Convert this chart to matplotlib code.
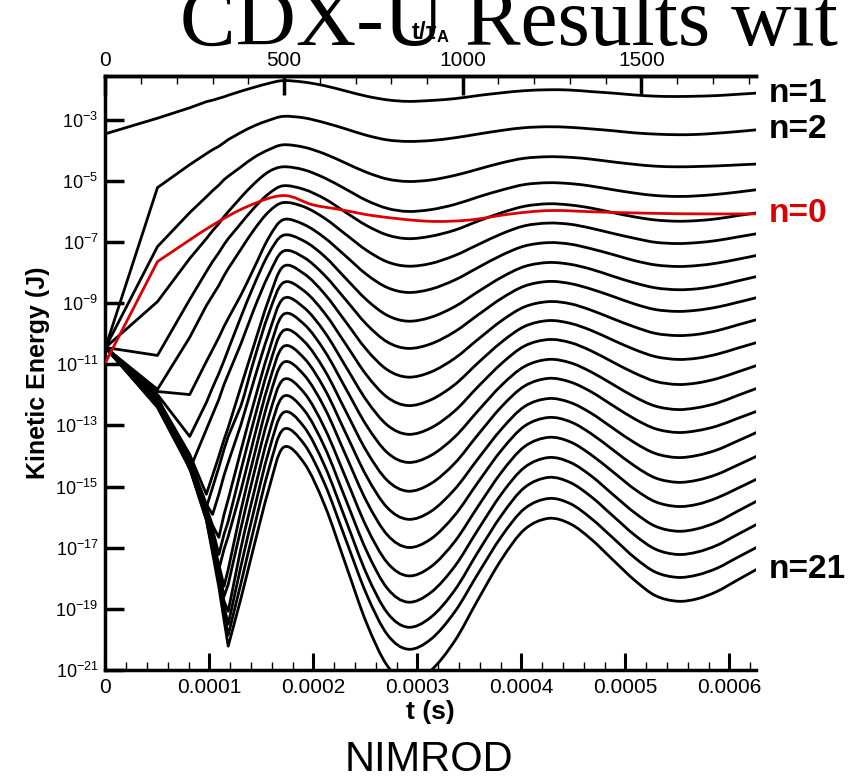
import matplotlib
matplotlib.use('Agg')
import matplotlib.pyplot as plt
import matplotlib.ticker as ticker
from matplotlib.path import Path
from matplotlib.patches import PathPatch
import numpy as np

plt.rcParams['font.family'] = ['Liberation Sans', 'DejaVu Sans']
plt.rcParams['mathtext.fontset'] = 'custom'
plt.rcParams['mathtext.rm'] = 'Liberation Sans'
plt.rcParams['mathtext.bf'] = 'Liberation Sans:bold'
plt.rcParams['mathtext.it'] = 'Liberation Sans:italic'

# sample times in microseconds, shared by the n=1..21 curves
t_us = [0, 50, 81, 97, 103, 109, 114, 118, 130, 143, 157, 171,
        191, 211, 231, 251, 271, 291, 313, 336, 358, 381, 403, 426,
        447, 467, 488, 509, 529, 550, 569, 588, 607, 626]

# log10 of kinetic energy (J) for each toroidal mode number
log_ke_n1 = [-3.46, -2.95, -2.61, -2.41, -2.36, -2.30, -2.25, -2.20, -2.07, -1.94, -1.81, -1.72,
             -1.77, -1.89, -2.06, -2.23, -2.35, -2.40, -2.37, -2.31, -2.21, -2.12, -2.05, -2.02,
             -2.03, -2.08, -2.13, -2.19, -2.23, -2.24, -2.23, -2.21, -2.17, -2.13]
log_ke_n2 = [-10.45, -5.22, -4.47, -4.11, -3.98, -3.87, -3.75, -3.65, -3.42, -3.20, -3.02, -2.89,
             -2.94, -3.10, -3.30, -3.51, -3.66, -3.71, -3.68, -3.59, -3.47, -3.35, -3.26, -3.23,
             -3.25, -3.30, -3.36, -3.43, -3.47, -3.49, -3.48, -3.44, -3.39, -3.33]
log_ke_n3 = [-10.45, -7.15, -6.04, -5.52, -5.32, -5.14, -4.96, -4.85, -4.55, -4.23, -3.98, -3.82,
             -3.90, -4.12, -4.42, -4.72, -4.94, -5.02, -4.97, -4.82, -4.62, -4.41, -4.26, -4.21,
             -4.23, -4.29, -4.38, -4.46, -4.52, -4.54, -4.53, -4.51, -4.48, -4.45]
log_ke_n4 = [-10.45, -8.95, -7.54, -6.89, -6.63, -6.40, -6.17, -6.01, -5.55, -5.09, -4.70, -4.54,
             -4.64, -4.91, -5.27, -5.64, -5.90, -6.00, -5.94, -5.77, -5.53, -5.30, -5.12, -5.06,
             -5.09, -5.17, -5.29, -5.40, -5.48, -5.51, -5.49, -5.44, -5.37, -5.29]
log_ke_n5 = [-10.45, -10.71, -8.88, -7.97, -7.64, -7.35, -7.08, -6.89, -6.40, -5.88, -5.42, -5.16,
             -5.28, -5.59, -6.03, -6.46, -6.77, -6.89, -6.81, -6.61, -6.32, -6.04, -5.83, -5.75,
             -5.79, -5.89, -6.04, -6.18, -6.28, -6.32, -6.30, -6.24, -6.14, -6.05]
log_ke_n6 = [-10.45, -11.82, -10.12, -9.08, -8.75, -8.42, -8.10, -7.87, -7.25, -6.59, -6.01, -5.71,
             -5.85, -6.23, -6.75, -7.27, -7.65, -7.79, -7.70, -7.44, -7.09, -6.73, -6.47, -6.38,
             -6.42, -6.55, -6.72, -6.88, -7.01, -7.05, -7.02, -6.95, -6.84, -6.73]
log_ke_n7 = [-10.45, -11.89, -11.99, -10.91, -10.52, -10.12, -9.76, -9.50, -8.75, -7.84, -6.86, -6.27,
             -6.43, -6.87, -7.46, -8.06, -8.49, -8.65, -8.54, -8.24, -7.84, -7.43, -7.13, -7.02,
             -7.07, -7.22, -7.41, -7.61, -7.75, -7.80, -7.77, -7.69, -7.57, -7.44]
log_ke_n8 = [-10.45, -11.99, -13.36, -12.25, -11.76, -11.30, -10.88, -10.52, -9.47, -8.39, -7.38, -6.78,
             -6.97, -7.48, -8.19, -8.89, -9.40, -9.59, -9.46, -9.11, -8.63, -8.15, -7.80, -7.67,
             -7.73, -7.89, -8.12, -8.34, -8.50, -8.56, -8.53, -8.43, -8.28, -8.13]
log_ke_n9 = [-10.45, -12.05, -14.44, -13.13, -12.64, -12.15, -11.66, -11.33, -10.35, -9.18, -8.07, -7.30,
             -7.51, -8.10, -8.89, -9.69, -10.27, -10.48, -10.33, -9.93, -9.39, -8.84, -8.44, -8.29,
             -8.36, -8.54, -8.78, -9.03, -9.21, -9.27, -9.23, -9.13, -8.98, -8.82]
log_ke_n10 = [-10.45, -12.12, -13.95, -15.25, -14.63, -14.01, -13.46, -13.07, -11.76, -10.35, -8.88, -7.80,
              -8.04, -8.71, -9.61, -10.52, -11.18, -11.42, -11.25, -10.80, -10.19, -9.57, -9.12, -8.95,
              -9.02, -9.23, -9.51, -9.78, -9.99, -10.06, -10.02, -9.90, -9.72, -9.54]
log_ke_n11 = [-10.45, -12.15, -14.05, -15.68, -15.03, -14.37, -13.78, -13.36, -12.38, -10.84, -9.34, -8.33,
              -8.60, -9.34, -10.34, -11.35, -12.08, -12.35, -12.16, -11.66, -10.96, -10.27, -9.76, -9.57,
              -9.66, -9.89, -10.21, -10.52, -10.75, -10.84, -10.80, -10.67, -10.48, -10.29]
log_ke_n12 = [-10.45, -12.18, -14.11, -15.58, -15.91, -15.25, -14.63, -14.21, -13.00, -11.50, -9.99, -8.85,
              -9.15, -9.96, -11.07, -12.18, -12.99, -13.29, -13.08, -12.52, -11.74, -10.97, -10.40, -10.19,
              -10.29, -10.56, -10.93, -11.29, -11.56, -11.66, -11.61, -11.47, -11.26, -11.04]
log_ke_n13 = [-10.45, -12.22, -14.18, -15.68, -16.27, -16.66, -15.91, -15.42, -13.85, -12.22, -10.58, -9.37,
              -9.69, -10.58, -11.79, -13.00, -13.89, -14.21, -13.98, -13.37, -12.53, -11.68, -11.07, -10.84,
              -10.95, -11.25, -11.66, -12.07, -12.37, -12.48, -12.42, -12.27, -12.03, -11.79]
log_ke_n14 = [-10.45, -12.25, -14.21, -15.75, -16.40, -17.22, -16.56, -16.14, -14.50, -12.80, -11.10, -9.90,
              -10.25, -11.21, -12.53, -13.84, -14.80, -15.15, -14.90, -14.23, -13.31, -12.38, -11.71, -11.46,
              -11.58, -11.90, -12.35, -12.79, -13.11, -13.23, -13.17, -13.02, -12.78, -12.54]
log_ke_n15 = [-10.45, -12.28, -14.24, -15.81, -16.63, -17.71, -17.05, -16.63, -15.16, -13.39, -11.63, -10.42,
              -10.80, -11.83, -13.25, -14.66, -15.69, -16.07, -15.81, -15.08, -14.10, -13.11, -12.38, -12.12,
              -12.25, -12.60, -13.09, -13.57, -13.92, -14.05, -13.98, -13.80, -13.52, -13.23]
log_ke_n16 = [-10.45, -12.31, -14.27, -15.88, -16.73, -17.54, -18.26, -17.71, -15.81, -13.98, -12.15, -10.94,
              -11.35, -12.45, -13.97, -15.48, -16.58, -16.99, -16.71, -15.93, -14.87, -13.80, -13.02, -12.74,
              -12.88, -13.27, -13.80, -14.33, -14.72, -14.86, -14.79, -14.60, -14.31, -14.01]
log_ke_n17 = [-10.45, -12.31, -14.31, -15.94, -16.82, -17.71, -18.59, -18.20, -16.40, -14.54, -12.71, -11.50,
              -11.93, -13.11, -14.71, -16.32, -17.49, -17.92, -17.62, -16.79, -15.66, -14.52, -13.69, -13.39,
              -13.54, -13.96, -14.52, -15.09, -15.50, -15.65, -15.58, -15.37, -15.07, -14.76]
log_ke_n18 = [-10.45, -12.35, -14.34, -16.01, -16.92, -17.84, -18.75, -19.08, -17.05, -15.16, -13.29, -12.05,
              -12.50, -13.73, -15.42, -17.10, -18.33, -18.78, -18.46, -17.60, -16.42, -15.23, -14.37, -14.05,
              -14.21, -14.65, -15.26, -15.86, -16.30, -16.46, -16.38, -16.16, -15.82, -15.48]
log_ke_n19 = [-10.45, -12.38, -14.37, -16.04, -17.02, -17.97, -18.92, -19.50, -17.64, -15.75, -13.85, -12.58,
              -13.05, -14.34, -16.09, -17.85, -19.13, -19.60, -19.27, -18.38, -17.15, -15.93, -15.03, -14.70,
              -14.87, -15.33, -15.96, -16.59, -17.05, -17.22, -17.14, -16.92, -16.58, -16.24]
log_ke_n20 = [-10.45, -12.38, -14.37, -16.07, -17.08, -18.13, -19.14, -19.86, -18.20, -16.33, -14.44, -13.13,
              -13.61, -14.93, -16.73, -18.52, -19.84, -20.32, -19.99, -19.09, -17.86, -16.62, -15.72, -15.39,
              -15.56, -16.04, -16.68, -17.33, -17.80, -17.97, -17.89, -17.67, -17.33, -16.99]
log_ke_n21 = [-10.45, -12.41, -14.41, -16.10, -17.18, -18.29, -19.37, -20.22, -18.69, -16.92, -15.09, -13.72,
              -14.23, -15.63, -17.55, -19.46, -20.86, -21.37, -21.01, -20.04, -18.71, -17.37, -16.40, -16.04,
              -16.22, -16.72, -17.40, -18.07, -18.57, -18.75, -18.67, -18.43, -18.07, -17.71]

# n=0 (red) has its own sample times
t0_us = [0, 50, 101, 137, 171, 199, 226, 260, 310, 350, 390, 428, 476, 524, 572, 626]
log_ke_n0 = [-10.94, -7.64, -6.49, -5.83, -5.48, -5.78, -5.94, -6.15, -6.32, -6.28, -6.08,
             -5.97, -6.02, -6.06, -6.08, -6.08]

black_modes = [log_ke_n1, log_ke_n2, log_ke_n3, log_ke_n4, log_ke_n5, log_ke_n6, log_ke_n7,
               log_ke_n8, log_ke_n9, log_ke_n10, log_ke_n11, log_ke_n12, log_ke_n13, log_ke_n14,
               log_ke_n15, log_ke_n16, log_ke_n17, log_ke_n18, log_ke_n19, log_ke_n20, log_ke_n21]

tau_A = 3.435e-7  # Alfven time (s)
red = '#dd0000'


def mode_curve(times, logs, first_smooth, sharp_start=False):
    """Straight segments up to first_smooth, then a Catmull-Rom style bezier
    through the read points (built in t / log10 space, drawn on the log axis)."""
    p = np.column_stack([np.asarray(times, float), np.asarray(logs, float)])
    n = len(p)
    tang = np.zeros_like(p)
    for i in range(n):
        lo = max(i - 1, 0)
        hi = min(i + 1, n - 1)
        if sharp_start and i == first_smooth:
            lo = i
        tang[i] = (p[hi] - p[lo]) / (hi - lo)
    verts = [p[0]]
    codes = [Path.MOVETO]
    for i in range(n - 1):
        if i < first_smooth:
            verts.append(p[i + 1])
            codes.append(Path.LINETO)
        else:
            verts += [p[i] + tang[i] / 3.0, p[i + 1] - tang[i + 1] / 3.0, p[i + 1]]
            codes += [Path.CURVE4] * 3
    v = np.array(verts)
    v[:, 0] *= 1e-6
    v[:, 1] = 10.0 ** v[:, 1]
    return Path(v, codes)


fig = plt.figure(figsize=(8.5, 7.82), dpi=100)
ax = fig.add_axes([0.1241, 0.1432, 0.7653, 0.7596])
ax.set_yscale('log')
ax.set_xlim(0, 6.255e-4)
ax.set_ylim(1e-21, 10 ** -1.57)

for logs in black_modes:
    ax.add_patch(PathPatch(mode_curve(t_us, logs, 8), fill=False, edgecolor='black',
                           lw=2.0, joinstyle='round', capstyle='round'))
ax.add_patch(PathPatch(mode_curve(t0_us, log_ke_n0, 1, sharp_start=True), fill=False,
                       edgecolor=red, lw=2.0, joinstyle='round', capstyle='round', zorder=3))

# axes look
for side in ['left', 'bottom', 'top']:
    ax.spines[side].set_linewidth(2.5)
ax.spines['right'].set_visible(False)

ax.xaxis.set_major_locator(ticker.MultipleLocator(1e-4))
ax.xaxis.set_minor_locator(ticker.MultipleLocator(2e-5))
ax.xaxis.set_major_formatter(ticker.FuncFormatter(lambda v, p: '0' if abs(v) < 1e-9 else '%.4f' % v))
ax.yaxis.set_major_locator(ticker.FixedLocator([10.0 ** e for e in range(-21, -2, 2)]))
ax.yaxis.set_minor_locator(ticker.NullLocator())
ax.yaxis.set_major_formatter(ticker.FuncFormatter(lambda v, p: r'$10^{%d}$' % round(np.log10(v))))
ax.tick_params(axis='x', which='major', direction='in', length=12, width=2.2, labelsize=15, pad=6, top=False)
ax.tick_params(axis='x', which='minor', direction='in', length=6, width=1.0, top=False)
ax.tick_params(axis='y', which='major', direction='in', length=14, width=2.5, labelsize=13, pad=5, right=False)

ax.set_xlabel('t (s)', fontsize=19, fontweight='bold', labelpad=2)
ax.set_ylabel('Kinetic Energy (J)', fontsize=18, fontweight='bold', labelpad=4)

sec = ax.secondary_xaxis('top', functions=(lambda x: x / tau_A, lambda x: x * tau_A))
sec.set_xticks([0, 500, 1000, 1500])
sec.xaxis.set_minor_locator(ticker.MultipleLocator(100))
sec.tick_params(which='major', direction='in', length=14, width=2.5, labelsize=15, pad=4)
sec.tick_params(which='minor', direction='in', length=6, width=1.0)
sec.spines['top'].set_linewidth(2.5)
sec.set_xlabel(r't/$\mathbf{\tau_A}$', fontsize=17, fontweight='bold', labelpad=9)

# mode labels at the right end of the curves
xend = t_us[-1] * 1e-6
for logs, name, col in [(log_ke_n1, 'n=1', 'black'), (log_ke_n2, 'n=2', 'black'),
                        (log_ke_n0, 'n=0', red), (log_ke_n21, 'n=21', 'black')]:
    ax.annotate(name, xy=(xend, 10.0 ** logs[-1]), xytext=(9, 0), textcoords='offset points',
                fontsize=24, fontweight='bold', color=col, va='center', ha='left',
                annotation_clip=False)

fig.text(0.212, 0.943, 'CDX-U Results wit', family='Liberation Serif', fontsize=60,
         ha='left', va='baseline', zorder=0)
fig.text(0.505, 0.014, 'NIMROD', fontsize=30, ha='center', va='baseline')

fig.savefig('out.png', dpi=100)
